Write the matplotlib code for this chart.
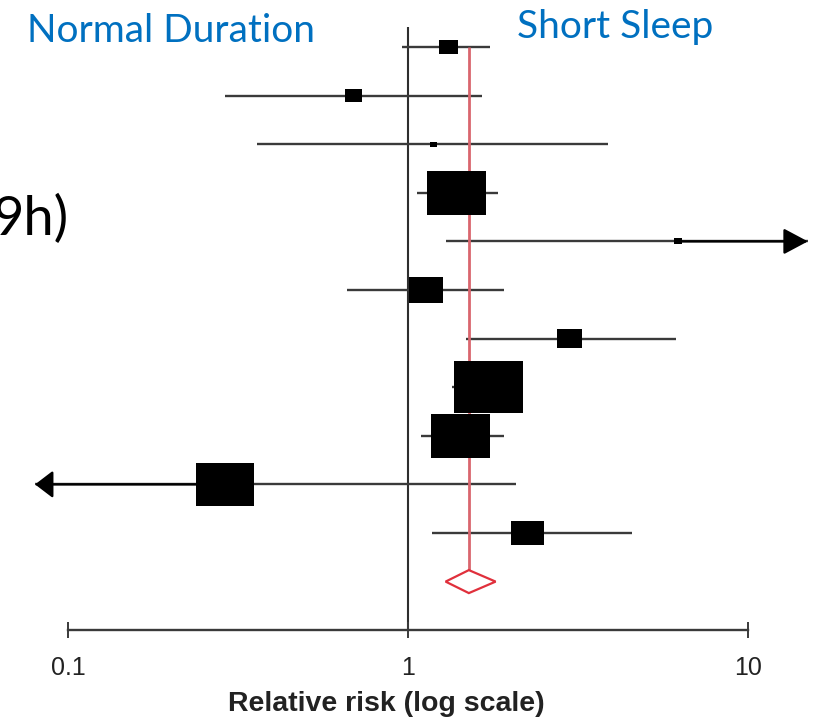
import numpy as np
import matplotlib
matplotlib.use("Agg")
import matplotlib.pyplot as plt
from matplotlib.path import Path
from matplotlib.markers import MarkerStyle
from matplotlib.ticker import NullLocator

# ---- data ----
rel_risk = [1.32, 0.69, 1.19, 1.39, 6.22, 1.13, 2.99, 1.72, 1.43, 0.29, 2.25]
ci_low = [0.96, 0.29, 0.36, 1.06, 1.29, 0.66, 1.48, 1.35, 1.09, 0.08, 1.18]
ci_high = [1.74, 1.65, 3.88, 1.84, 15.0, 1.92, 6.14, 2.05, 1.92, 2.08, 4.56]
arrow_low = [False, False, False, False, False, False, False, False, False, True, False]
arrow_high = [False, False, False, False, True, False, False, False, False, False, False]
study_weight = [19, 17, 7, 59, 8, 34, 25, 69, 59, 58, 33]
pooled_rr = 1.51
pooled_low = 1.29
pooled_high = 1.81
tick_values = [0.1, 1, 10]
tick_labels = ["0.1", "1", "10"]
label_left = "Normal Duration"
label_right = "Short Sleep"
side_text = "9h)"
x_title = "Relative risk (log scale)"

# ---- layout ----
W, H = 817, 720
fig = plt.figure(figsize=(W / 100, H / 100), dpi=100)
ax = fig.add_axes([0, 0, 1, 1])
ax.set_xscale("log")
ax.set_xlim(10 ** (-1 - 68 / 340), 10 ** (1 + 69 / 340))
row_px = 48.6
top_px = 47
ax.set_ylim((H - top_px) / row_px, -top_px / row_px)
spine_y = (630 - top_px) / row_px

rows = np.arange(len(rel_risk))
diamond_row = len(rel_risk)
dh = 11.5 / row_px

line_col = "#3a3a3a"
red_line = "#d9666e"
red_diamond = "#e0303c"

# null line
ax.vlines(1, (27 - top_px) / row_px, spine_y, color="#2e2e2e", lw=1.5, zorder=1)

# CI lines
ax.hlines(rows, ci_low, ci_high, color=line_col, lw=1.7, zorder=2)

# arrows for truncated CIs
right_arrow = dict(arrowstyle="-|>,head_length=0.75,head_width=0.4", mutation_scale=20,
                   color="black", lw=1.7, shrinkA=0, shrinkB=0)
left_arrow = dict(arrowstyle="-|>,head_length=0.55,head_width=0.42", mutation_scale=20,
                  color="black", lw=1.7, shrinkA=0, shrinkB=0)
for i in rows:
    if arrow_high[i]:
        ax.annotate("", xy=(ci_high[i], i), xytext=(rel_risk[i], i), arrowprops=right_arrow, zorder=3)
    if arrow_low[i]:
        ax.annotate("", xy=(ci_low[i], i), xytext=(rel_risk[i], i), arrowprops=left_arrow, zorder=3)

# pooled line
ax.vlines(pooled_rr, 0, diamond_row - dh, color=red_line, lw=2.0, zorder=3)

# boxes
box_verts = [(-1, -0.75), (1, -0.75), (1, 0.75), (-1, 0.75), (-1, -0.75)]
box_marker = MarkerStyle(Path(box_verts, closed=True))
sizes = (np.array(study_weight) * 0.72) ** 2
ax.scatter(rel_risk, rows, s=sizes, marker=box_marker, color="black", linewidths=0, zorder=4)

# pooled diamond
ax.fill([pooled_low, pooled_rr, pooled_high, pooled_rr],
        [diamond_row, diamond_row - dh, diamond_row, diamond_row + dh],
        facecolor="white", edgecolor=red_diamond, lw=1.6, zorder=4)

# axis
for s in ["top", "left", "right"]:
    ax.spines[s].set_visible(False)
ax.spines["bottom"].set_position(("data", spine_y))
ax.spines["bottom"].set_bounds(tick_values[0], tick_values[-1])
ax.spines["bottom"].set_color(line_col)
ax.spines["bottom"].set_linewidth(1.7)
ax.set_xticks(tick_values, tick_labels)
ax.xaxis.set_minor_locator(NullLocator())
ax.tick_params(axis="x", direction="inout", length=12, width=1.4, pad=12.5, labelsize=18,
               colors=line_col, labelcolor="#222222")
for lab in ax.get_xticklabels():
    lab.set_family("Liberation Sans")
ax.set_yticks([])
ax.patch.set_alpha(0)

# texts
fig.text(386 / W, 1 - 711 / H, x_title, fontweight="bold", fontsize=20.5, ha="center", va="baseline",
         family="Liberation Sans", color="#222222")
fig.text(27 / W, 1 - 42 / H, label_left, color="#0070C0", fontsize=28, family="Lato",
         ha="left", va="baseline")
fig.text(517 / W, 1 - 38 / H, label_right, color="#0070C0", fontsize=28, family="Lato",
         ha="left", va="baseline")
fig.text(68 / W, 1 - 235 / H, side_text, color="black", fontsize=39, family="Lato",
         ha="right", va="baseline")

fig.savefig("out.png", dpi=100, facecolor="white")
